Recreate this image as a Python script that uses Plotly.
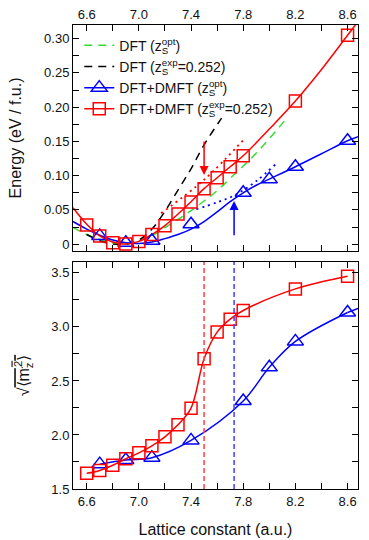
import plotly.graph_objects as go
from plotly.subplots import make_subplots

# ---------------- data ----------------
# DFT+DMFT total energies (eV / f.u.)
a_red = [6.6, 6.7, 6.8, 6.9, 7.0, 7.1, 7.2, 7.3, 7.4, 7.5, 7.6, 7.7, 7.8, 8.2, 8.6]
E_red = [0.028, 0.012, 0.002, 0.0, 0.004, 0.014, 0.027, 0.044, 0.0615, 0.081, 0.097, 0.113, 0.129, 0.209, 0.305]
a_blue = [6.7, 6.9, 7.1, 7.4, 7.8, 8.0, 8.2, 8.6]
E_blue = [0.012, 0.002, 0.005, 0.029, 0.075, 0.0946, 0.113, 0.151]

# local moments sqrt(<m_z^2>)
m_red = [1.645, 1.672, 1.72, 1.78, 1.835, 1.90, 1.983, 2.094, 2.248, 2.706, 2.952, 3.072, 3.152, 3.352, 3.469]
m_blue = [1.73, 1.768, 1.79, 1.95, 2.315, 2.626, 2.866, 3.134]
m_blue_tail_a = [8.6, 8.68]
m_blue_tail = [3.134, 3.17]

# fitted curves
red_fit_a = [6.495, 6.6, 6.7, 6.8, 6.9, 7.0, 7.1, 7.2, 7.3, 7.4, 7.5, 7.6, 7.7, 7.8, 8.0, 8.2, 8.4, 8.6, 8.66]
red_fit_E = [0.053, 0.029, 0.012, 0.003, 0.0, 0.004, 0.014, 0.027, 0.044, 0.062, 0.081, 0.097, 0.113, 0.129, 0.168, 0.209, 0.255, 0.305, 0.32]
blue_fit_a = [6.495, 6.6, 6.7, 6.8, 6.9, 7.0, 7.1, 7.2, 7.3, 7.4, 7.5, 7.6, 7.7, 7.8, 7.9, 8.0, 8.2, 8.4, 8.6, 8.68]
blue_fit_E = [0.033, 0.022, 0.013, 0.006, 0.002, 0.001, 0.003, 0.008, 0.014, 0.022, 0.033, 0.047, 0.062, 0.075, 0.086, 0.095, 0.113, 0.132, 0.151, 0.157]
dft_opt_a = [6.495, 6.6, 6.7, 6.8, 6.9, 7.0, 7.1, 7.2, 7.3, 7.4, 7.5, 7.6, 7.7, 7.8, 7.9, 8.0, 8.13]
dft_opt_E = [0.0245, 0.014, 0.007, 0.002, 0.0, 0.005, 0.012, 0.024, 0.036, 0.049, 0.063, 0.078, 0.096, 0.114, 0.133, 0.154, 0.183]
dft_exp_a = [6.6, 6.7, 6.8, 6.9, 7.0, 7.1, 7.2, 7.3, 7.4, 7.5, 7.634]
dft_exp_E = [0.014, 0.005, 0.0, 0.0, 0.006, 0.022, 0.048, 0.079, 0.11, 0.145, 0.184]
red_dot_a = [7.17, 7.5, 7.82]
red_dot_E = [0.045, 0.094, 0.156]
blue_dot_a = [7.44, 7.6, 7.74, 7.9, 8.05]
blue_dot_E = [0.051, 0.061, 0.072, 0.092, 0.117]

# transitions
a_c_exp = 7.5
a_c_opt = 7.73
red_arrow = [0.152, 0.101]
blue_arrow = [0.0107, 0.063]

# ticks
x_ticks = [6.6, 7.0, 7.4, 7.8, 8.2, 8.6]
x_labels = ["6.6", "7.0", "7.4", "7.8", "8.2", "8.6"]
e_ticks = [0, 0.05, 0.10, 0.15, 0.20, 0.25, 0.30]
e_labels = ["0", "0.05", "0.10", "0.15", "0.20", "0.25", "0.30"]
m_ticks = [1.5, 2.0, 2.5, 3.0, 3.5]
m_labels = ["1.5", "2.0", "2.5", "3.0", "3.5"]

RED = "#ff0000"
BLUE = "#0000ff"
GREEN = "#33dd33"
FONT = "Liberation Sans, Arial, sans-serif"
TXT = "#111111"


def zs(sup):
    return ('z<sub><span style="letter-spacing:-6.5px">S</span></sub>'
            '<sup>' + sup + '</sup>')


fig = make_subplots(rows=2, cols=1)

# ---------- top panel ----------
fig.add_trace(go.Scatter(x=dft_opt_a, y=dft_opt_E, mode="lines", line_shape="spline",
                         line=dict(color=GREEN, width=1.5, dash="8px,6px"),
                         name="DFT (" + zs("opt") + ")", legendrank=1), row=1, col=1)
fig.add_trace(go.Scatter(x=dft_exp_a, y=dft_exp_E, mode="lines", line_shape="spline",
                         line=dict(color="black", width=1.5, dash="8px,6px"),
                         name="DFT (" + zs("exp") + "=0.252)", legendrank=2), row=1, col=1)
fig.add_trace(go.Scatter(x=red_dot_a, y=red_dot_E, mode="lines", line_shape="spline",
                         line=dict(color=RED, width=1.8, dash="2px,4px"),
                         showlegend=False), row=1, col=1)
fig.add_trace(go.Scatter(x=blue_dot_a, y=blue_dot_E, mode="lines", line_shape="spline",
                         line=dict(color=BLUE, width=1.8, dash="2px,4px"),
                         showlegend=False), row=1, col=1)
fig.add_trace(go.Scatter(x=blue_fit_a, y=blue_fit_E, mode="lines", line_shape="spline",
                         line=dict(color=BLUE, width=1.5), showlegend=False), row=1, col=1)
fig.add_trace(go.Scatter(x=red_fit_a, y=red_fit_E, mode="lines", line_shape="spline",
                         line=dict(color=RED, width=1.5), showlegend=False), row=1, col=1)
fig.add_trace(go.Scatter(x=a_blue, y=E_blue, mode="markers",
                         marker=dict(symbol="triangle-up-open", size=14, color=BLUE,
                                     line=dict(width=1.5, color=BLUE)),
                         showlegend=False), row=1, col=1)
fig.add_trace(go.Scatter(x=a_red, y=E_red, mode="markers",
                         marker=dict(symbol="square-open", size=12, color=RED,
                                     line=dict(width=1.5, color=RED)),
                         showlegend=False), row=1, col=1)

# ---------- bottom panel ----------
fig.add_trace(go.Scatter(x=m_blue_tail_a, y=m_blue_tail, mode="lines",
                         line=dict(color=BLUE, width=1.5), showlegend=False), row=2, col=1)
fig.add_trace(go.Scatter(x=a_blue, y=m_blue, mode="lines+markers", line_shape="spline",
                         line=dict(color=BLUE, width=1.5),
                         marker=dict(symbol="triangle-up-open", size=14, color=BLUE,
                                     line=dict(width=1.5, color=BLUE)),
                         name="DFT+DMFT (" + zs("opt") + ")", legendrank=3), row=2, col=1)
fig.add_trace(go.Scatter(x=a_red, y=m_red, mode="lines+markers", line_shape="spline",
                         line=dict(color=RED, width=1.5),
                         marker=dict(symbol="square-open", size=12, color=RED,
                                     line=dict(width=1.5, color=RED)),
                         name="DFT+DMFT (" + zs("exp") + "=0.252)", legendrank=4), row=2, col=1)

# vertical transition lines in bottom panel
fig.add_vline(x=a_c_exp, line=dict(color="#ff4040", width=1.5, dash="5px,3px"), row=2, col=1)
fig.add_vline(x=a_c_opt, line=dict(color="#4040ff", width=1.5, dash="5px,3px"), row=2, col=1)

# arrows in top panel
fig.add_annotation(x=a_c_exp, y=red_arrow[1], ax=a_c_exp, ay=red_arrow[0], xref="x", yref="y",
                   axref="x", ayref="y", showarrow=True, arrowhead=2, arrowsize=1.2,
                   arrowwidth=1.5, arrowcolor=RED, text="")
fig.add_annotation(x=a_c_opt, y=blue_arrow[1], ax=a_c_opt, ay=blue_arrow[0], xref="x", yref="y",
                   axref="x", ayref="y", showarrow=True, arrowhead=2, arrowsize=1.2,
                   arrowwidth=1.5, arrowcolor=BLUE, text="")

axis_common = dict(showline=True, linecolor="black", linewidth=1, mirror="allticks",
                   ticks="inside", ticklen=6, tickcolor="black", tickwidth=1,
                   showgrid=False, zeroline=False, automargin=False,
                   tickfont=dict(size=13, color=TXT, family=FONT))

xrange = [6.495, 8.68]
fig.update_xaxes(range=xrange, tickvals=x_ticks, ticktext=x_labels,
                 minor=dict(dtick=0.2, tick0=6.6, ticks="inside", ticklen=6,
                            tickcolor="black", showgrid=False),
                 **axis_common)
fig.update_xaxes(side="top", row=1, col=1)
fig.update_xaxes(title=dict(text="Lattice constant (a.u.)", font=dict(size=16, family=FONT, color=TXT),
                            standoff=16), row=2, col=1)
fig.update_yaxes(**axis_common)
fig.update_yaxes(range=[-0.01, 0.32], tickvals=e_ticks, ticktext=e_labels, domain=[0.513, 1.0],
                 minor=dict(dtick=0.025, tick0=0, ticks="inside", ticklen=6,
                            tickcolor="black", showgrid=False),
                 title=dict(text="Energy (eV / f.u.)", font=dict(size=16, family=FONT, color=TXT),
                            standoff=18),
                 row=1, col=1)
fig.update_yaxes(range=[1.5, 3.6], tickvals=m_ticks, ticktext=m_labels, domain=[0.0, 0.489],
                 minor=dict(dtick=0.25, tick0=1.5, ticks="inside", ticklen=6,
                            tickcolor="black", showgrid=False),
                 title=dict(text='√<span style="text-decoration:overline">⟨m<sub><span style="letter-spacing:-4.5px">z</span></sub><sup>2</sup>⟩</span>',
                            font=dict(size=16, family=FONT, color=TXT), standoff=17),
                 row=2, col=1)

fig.update_layout(
    width=369, height=540,
    margin=dict(l=73, r=11, t=25, b=51),
    paper_bgcolor="white", plot_bgcolor="white",
    font=dict(family=FONT, color=TXT),
    legend=dict(x=0.022, y=0.99, xanchor="left", yanchor="top",
                bgcolor="rgba(0,0,0,0)", font=dict(size=14, family=FONT, color=TXT),
                tracegroupgap=0, itemwidth=30),
    showlegend=True,
)

fig.write_html("out.html", config={"displayModeBar": False},
               post_script="document.body.style.margin='0px';")
